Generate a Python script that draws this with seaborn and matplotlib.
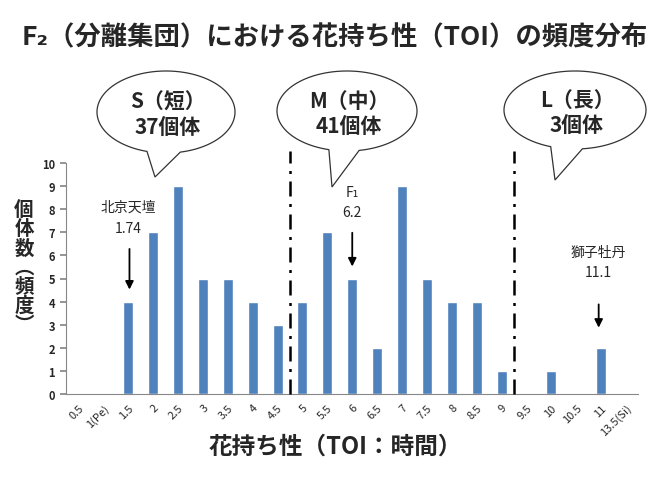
import numpy as np
import matplotlib
matplotlib.use("Agg")
import matplotlib.pyplot as plt
import seaborn as sns
from matplotlib.patches import Polygon

categories = ["0.5", "1(Pe)", "1.5", "2", "2.5", "3", "3.5", "4", "4.5", "5", "5.5",
              "6", "6.5", "7", "7.5", "8", "8.5", "9", "9.5", "10", "10.5", "11", "13.5(Si)"]
counts = [0, 0, 4, 7, 9, 5, 5, 4, 3, 4, 7, 5, 2, 9, 5, 4, 4, 1, 0, 1, 0, 2, 0]
y_ticks = list(range(0, 11))

title = "F₂（分離集団）における花持ち性（TOI）の頻度分布"
xlabel = "花持ち性（TOI：時間）"
ylabel_chars = ["個", "体", "数", "︵", "頻", "度", "︶"]
groups = ["S（短）\n37個体", "M（中）\n41個体", "L（長）\n3個体"]

sns.set_theme(style="white")
FAM = ["Noto Sans CJK JP", "DejaVu Sans"]
plt.rcParams["font.family"] = FAM

fig = plt.figure(figsize=(6.7, 5.02), dpi=100)
ax = fig.add_axes([66 / 670, 1 - 395 / 502, (638.5 - 66) / 670, (395 - 164) / 502])

sns.barplot(x=categories, y=counts, order=categories, color="#4F81BD", saturation=1,
            width=0.4, ax=ax)

ax.set_xlim(-0.5, len(categories) - 0.5)
ax.set_ylim(0, 10)
ax.set_yticks(y_ticks)
ax.set_yticklabels([str(t) for t in y_ticks], fontsize=8, fontweight="bold")
ax.set_xticks(range(len(categories)))
ax.set_xticklabels(categories, fontsize=8, rotation=45, ha="right", rotation_mode="anchor")
ax.set_xticks(np.arange(-0.5, len(categories), 1.0), minor=True)
ax.tick_params(axis="x", which="major", length=0, pad=6)
ax.tick_params(axis="x", which="minor", length=4, color="#888888", direction="out")
ax.tick_params(axis="y", length=4, color="#888888", direction="out", pad=4, left=True)
ax.set_xlabel("")
ax.set_ylabel("")
for s in ["top", "right"]:
    ax.spines[s].set_visible(False)
for s in ["left", "bottom"]:
    ax.spines[s].set_color("#888888")
    ax.spines[s].set_linewidth(0.8)

# dash-dot separators
for xv in [8.5, 17.5]:
    ax.plot([xv, xv], [0, 10.5], color="black", lw=1.8,
            linestyle=(0, (6, 3, 1.2, 3)), clip_on=False, zorder=3)

# annotations
ax.text(2.0, 8.1, "北京天壇", ha="center", va="center", fontsize=10)
ax.text(2.0, 7.2, "1.74", ha="center", va="center", fontsize=10)
ax.annotate("", xy=(2.05, 4.4), xytext=(2.05, 6.4),
            arrowprops=dict(arrowstyle="-|>", color="black", lw=1.3, mutation_scale=12))
ax.text(11.0, 8.75, "F₁", ha="center", va="center", fontsize=10)
ax.text(11.0, 7.9, "6.2", ha="center", va="center", fontsize=10)
ax.annotate("", xy=(11.0, 5.4), xytext=(11.0, 7.1),
            arrowprops=dict(arrowstyle="-|>", color="black", lw=1.3, mutation_scale=12))
ax.text(20.9, 6.15, "獅子牡丹", ha="center", va="center", fontsize=10)
ax.text(20.9, 5.3, "11.1", ha="center", va="center", fontsize=10)
ax.annotate("", xy=(20.9, 2.75), xytext=(20.9, 4.0),
            arrowprops=dict(arrowstyle="-|>", color="black", lw=1.3, mutation_scale=12))

# overlay in pixel coordinates
ov = fig.add_axes([0, 0, 1, 1], zorder=10)
ov.set_xlim(0, 670)
ov.set_ylim(502, 0)
ov.axis("off")
ov.patch.set_alpha(0)


def bubble(cx, cy, rx, ry, a1, a2, tip):
    # a1 > a2 angles (degrees, y downward => bottom ~ 90)
    th = np.radians(np.linspace(a2, a1 - 360 + 360, 2))
    angs = np.linspace(np.radians(a1), np.radians(a2 + 360), 200)
    pts = [(cx + rx * np.cos(t), cy + ry * np.sin(t)) for t in angs]
    pts.append(tip)
    poly = Polygon(pts, closed=True, facecolor="white", edgecolor="#333333", lw=0.9)
    ov.add_patch(poly)


bubble_specs = [
    (166, 113, 69, 41, 106, 78, (155, 178)),
    (347, 112, 70, 40, 105, 80, (332, 188)),
    (575, 111, 71, 39, 110, 84, (555, 181)),
]
for (cx, cy, rx, ry, a1, a2, tip), txt in zip(bubble_specs, groups):
    bubble(cx, cy, rx, ry, a1, a2, tip)
    ov.text(cx + 2, cy + 2, txt, ha="center", va="center", fontsize=15,
            fontweight="bold", linespacing=1.25)

ov.text(335, 38, title, ha="center", va="center", fontsize=19, fontweight="bold")
ov.text(335, 447, xlabel, ha="center", va="center", fontsize=17, fontweight="bold")
ov.text(24, 268, "\n".join(ylabel_chars), ha="center", va="center", fontsize=14,
        fontweight="bold", linespacing=1.0)

fig.savefig("out.png", dpi=100)
